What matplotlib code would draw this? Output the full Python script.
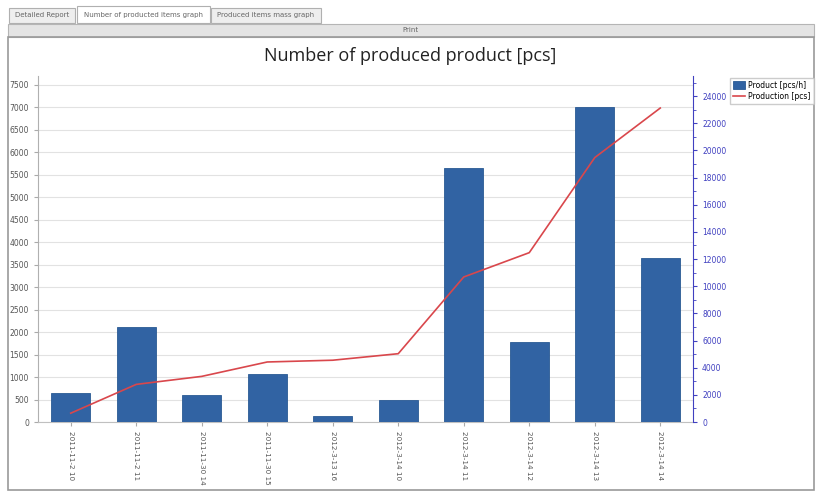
import matplotlib.pyplot as plt
from matplotlib.patches import Rectangle

categories = ["2011-11-2 10", "2011-11-2 11", "2011-11-30 14", "2011-11-30 15",
              "2012-3-13 16", "2012-3-14 10", "2012-3-14 11", "2012-3-14 12",
              "2012-3-14 13", "2012-3-14 14"]
product_rate = [650, 2120, 590, 1060, 130, 480, 5650, 1790, 7000, 3650]
production_total = [650, 2770, 3360, 4420, 4550, 5030, 10680, 12470, 19470, 23120]
tabs = ["Detailed Report", "Number of producted items graph", "Produced items mass graph"]

W, H = 817, 491
fig = plt.figure(figsize=(W / 100, H / 100), dpi=100)
fig.patch.set_facecolor("white")


def px(x, y, w, h):
    # pixel box (top-left origin) -> figure fraction
    return [x / W, 1 - (y + h) / H, w / W, h / H]


# window chrome: tabs, print bar, frame
tab_boxes = [(9, 8, 66), (77, 6, 133), (211, 8, 110)]
for (x, y, w), name in zip(tab_boxes, tabs):
    fc = "white" if name.startswith("Number") else "#eeeeee"
    fig.patches.append(Rectangle((x / W, 1 - 23 / H), w / W, (23 - y) / H,
                                 transform=fig.transFigure, fc=fc, ec="#b0b0b0", lw=0.8))
    fig.text((x + w / 2) / W, 1 - 15 / H, name, fontsize=5, color="#666666",
             ha="center", va="center")
fig.patches.append(Rectangle((8 / W, 1 - 37 / H), 806 / W, 13 / H,
                             transform=fig.transFigure, fc="#e4e4e4", ec="#b5b5b5", lw=0.8))
fig.text(410 / W, 1 - 30.5 / H, "Print", fontsize=5, color="#666666", ha="center", va="center")
fig.patches.append(Rectangle((8 / W, 1 / H), 806 / W, (H - 38) / H,
                             transform=fig.transFigure, fc="none", ec="#9a9a9a", lw=1.2))

fig.text(410 / W, 1 - 56 / H, "Number of produced product [pcs]", fontsize=13,
         color="#222222", ha="center", va="center", family="Open Sans")

ax = fig.add_axes(px(38, 76, 655, 346))
x = range(len(categories))
bars = ax.bar(x, product_rate, width=0.6, color="#3163a3", edgecolor="#2a5a94",
              linewidth=0.6, label="Product [pcs/h]", zorder=3)
ax.set_xlim(-0.5, len(categories) - 0.5)
ax.set_ylim(0, 7700)
ax.set_yticks(range(0, 7501, 500))
ax.tick_params(axis="y", labelsize=5.5, labelcolor="#555555", color="#aaaaaa", length=3)
ax.set_xticks(list(x))
ax.set_xticklabels(categories, rotation=270, fontsize=5.2, color="#555555")
ax.tick_params(axis="x", color="#aaaaaa", length=3)
ax.grid(axis="y", color="#e2e2e2", lw=0.8, zorder=0)
for s in ["top", "right"]:
    ax.spines[s].set_visible(False)
ax.spines["left"].set_color("#b0b0b0")
ax.spines["bottom"].set_color("#c0c0c0")

ax2 = ax.twinx()
line, = ax2.plot(list(x), production_total, color="#d9474c", lw=1.2, label="Production [pcs]", zorder=4)
ax2.set_ylim(0, 25480)
ax2.set_yticks(range(0, 24001, 2000))
ax2.set_yticks(range(0, 25001, 1000), minor=True)
ax2.tick_params(axis="y", labelsize=5.5, labelcolor="#4040c0", color="#4040c0", length=3)
ax2.tick_params(axis="y", which="minor", color="#4040c0", length=2)
for s in ["top", "left", "bottom"]:
    ax2.spines[s].set_visible(False)
ax2.spines["right"].set_color("#4040c0")

fig.legend([bars, line], ["Product [pcs/h]", "Production [pcs]"], loc="upper left",
           bbox_to_anchor=(726 / W, 1 - 74 / H), fontsize=5.5, frameon=True,
           fancybox=False, edgecolor="#c0c0c0", handlelength=1.6, handleheight=1.2,
           borderpad=0.4, labelspacing=0.3, handletextpad=0.4)

fig.savefig("out.png", dpi=100)
